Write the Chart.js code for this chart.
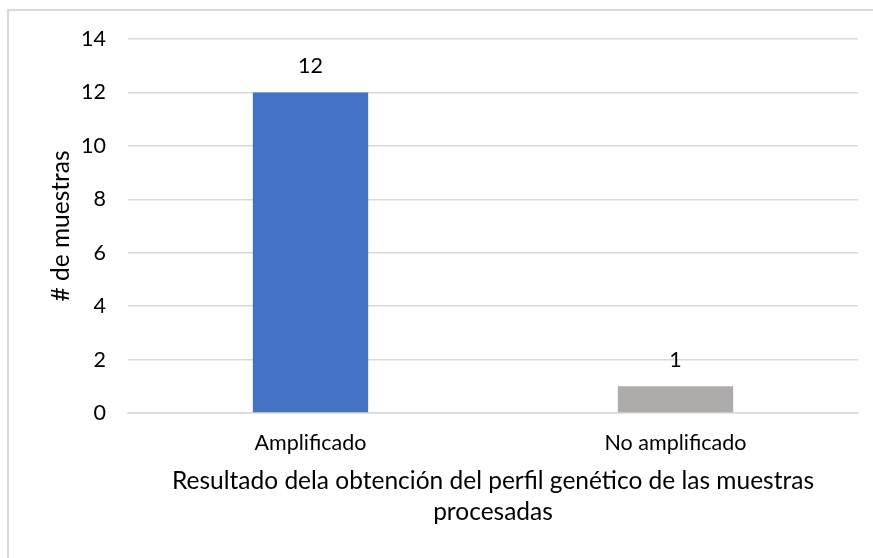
<!DOCTYPE html>
<html>
<head>
<meta charset="utf-8">
<script src="https://cdn.jsdelivr.net/npm/chart.js@4"></script>
<style>
  html, body { margin: 0; padding: 0; background: #fff; }
  #wrap { position: relative; width: 873px; height: 558px; overflow: hidden; }
  #frame { position: absolute; left: 7px; top: 9px; width: 900px; height: 600px;
           border-left: 2px solid #d9d9d9; border-top: 2px solid #d9d9d9; }
  canvas { position: absolute; left: 0; top: 0; }
</style>
</head>
<body>
<div id="wrap">
  <div id="frame"></div>
  <canvas id="myChart" width="873" height="558"></canvas>
</div>
<script>
const categories = ['Amplificado', 'No amplificado'];
const muestras = [12, 1];
const barColors = ['#4472C4', '#AEABAB'];

const ctx = document.getElementById('myChart');

// valores encima de cada barra
const valueLabels = {
  id: 'valueLabels',
  afterDatasetsDraw(chart) {
    const c = chart.ctx;
    const meta = chart.getDatasetMeta(0);
    c.save();
    c.font = '21.5px Lato';
    c.fillStyle = '#000';
    c.textAlign = 'center';
    c.textBaseline = 'middle';
    meta.data.forEach((bar, i) => {
      c.fillText(String(chart.data.datasets[0].data[i]), bar.x, bar.y - 26);
    });
    c.restore();
  }
};

new Chart(ctx, {
  type: 'bar',
  data: {
    labels: categories,
    datasets: [{
      label: '# de muestras',
      data: muestras,
      backgroundColor: barColors,
      borderWidth: 0,
      categoryPercentage: 1,
      barPercentage: 0.316
    }]
  },
  options: {
    responsive: false,
    animation: false,
    layout: { padding: { top: 39, right: 15, bottom: 0, left: 0 } },
    plugins: {
      legend: { display: false },
      tooltip: { enabled: false }
    },
    scales: {
      y: {
        min: 0,
        max: 14,
        ticks: { stepSize: 2, color: '#000', font: { family: 'Lato', size: 21.5 }, padding: 22 },
        grid: { color: '#d9d9d9', lineWidth: 1.5, drawTicks: false },
        border: { display: false },
        title: {
          display: true,
          text: '# de muestras',
          color: '#000',
          font: { family: 'Lato', size: 24.5 },
          padding: { top: 46, bottom: 0 }
        },
        afterFit(scale) { scale.width = 128; }
      },
      x: {
        ticks: { color: '#000', font: { family: 'Lato', size: 21.5 }, padding: 17 },
        grid: { display: false, drawTicks: false },
        border: { color: '#d9d9d9', width: 1.5 },
        title: {
          display: true,
          text: ['Resultado dela obtención del perfil genético de las muestras', 'procesadas'],
          color: '#000',
          font: { family: 'Lato', size: 24.5, lineHeight: 1.27 },
          padding: { top: 8, bottom: 30 }
        },
        afterFit(scale) { scale.height = 145; }
      }
    }
  },
  plugins: [valueLabels]
});
</script>
</body>
</html>
